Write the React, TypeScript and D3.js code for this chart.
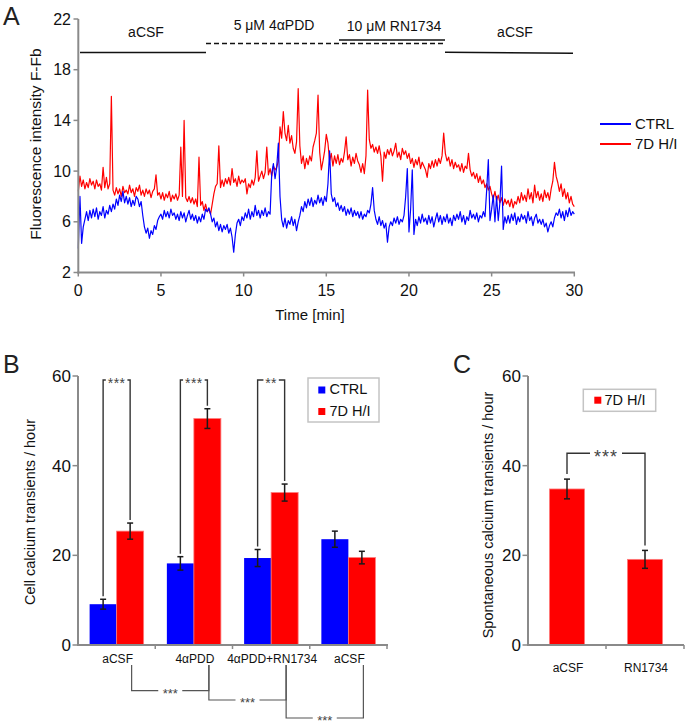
import React from 'react';
import * as d3 from 'd3';

const FONT = '"Liberation Sans", Arial, Helvetica, sans-serif';
const AXIS = '#8a8a8a';
const BLUE = '#0000ff';
const RED = '#ff0000';

// ---------- Panel A data (sampled every 0.1 min) ----------
const TRACE_STEP_MIN = 0.1;
const ctrlTrace = [
  3.9, 8.0, 4.3, 5.6, 6.2, 6.8, 6.1, 6.9, 6.3, 7.0,
  6.4, 7.1, 6.2, 6.8, 6.5, 7.2, 6.3, 6.9, 6.6, 7.3,
  6.8, 7.4, 7.0, 7.8, 7.3, 8.1, 7.6, 8.4, 7.5, 8.0,
  7.4, 7.9, 7.2, 7.7, 7.3, 8.0, 7.8, 7.2, 7.6, 6.5,
  5.6, 5.1, 5.5, 4.7, 5.3, 5.0, 5.7, 5.4, 6.1, 6.4,
  6.6, 6.2, 6.9, 6.4, 6.8, 6.3, 7.0, 6.5, 6.7, 6.2,
  6.6, 6.1, 6.8, 6.3, 6.7, 6.0, 6.5, 6.9, 6.2, 6.6,
  6.1, 6.5, 5.9, 6.4, 6.0, 6.6, 6.2, 7.0, 6.8, 7.1,
  6.6, 6.0, 6.3, 5.6, 6.0, 5.3, 5.8, 5.2, 5.7, 5.4,
  5.8, 5.1, 5.5, 4.8, 3.6, 5.0, 5.9, 6.2, 5.7, 6.4,
  6.1, 6.7, 6.3, 7.0, 6.2, 6.8, 6.4, 7.3, 6.5, 6.9,
  6.3, 6.9, 6.5, 7.1, 6.4, 6.8, 6.6, 9.8, 10.6, 9.4,
  10.3, 12.2, 8.0, 6.2, 5.6, 6.3, 5.5, 6.1, 5.8, 6.4,
  5.7, 6.2, 5.3, 6.0, 6.5, 7.2, 6.8, 7.6, 7.1, 7.8,
  7.3, 7.9, 7.2, 7.7, 7.4, 8.1, 7.5, 7.9, 7.3, 8.0,
  7.6, 9.0, 11.6, 8.2, 7.6, 7.9, 7.2, 7.5, 6.9, 7.3,
  6.8, 7.2, 6.5, 7.0, 6.6, 7.1, 6.4, 6.9, 6.5, 6.8,
  6.3, 6.8, 6.2, 6.6, 6.4, 6.9, 6.7, 7.4, 8.7, 6.9,
  6.2, 5.8, 6.4, 5.7, 6.1, 5.5, 5.9, 4.4, 5.6, 6.0,
  5.7, 6.3, 5.9, 6.4, 5.8, 6.2, 6.0, 6.5, 8.0, 10.2,
  5.2, 7.0, 10.1, 5.0, 6.2, 5.7, 6.4, 5.9, 6.6, 6.0,
  6.3, 5.8, 6.5, 5.9, 6.4, 5.6, 6.2, 6.7, 6.0, 6.5,
  5.8, 6.4, 6.0, 6.6, 5.9, 6.3, 5.7, 6.5, 6.1, 6.6,
  6.2, 6.8, 6.0, 6.5, 5.8, 6.4, 6.1, 6.9, 6.3, 6.6,
  6.2, 6.7, 6.0, 6.5, 6.3, 6.8, 6.4, 8.5, 10.9, 6.1,
  7.0, 8.1, 6.0, 8.0, 6.1, 7.5, 10.4, 5.4, 6.4, 5.9,
  6.5, 5.9, 6.6, 6.1, 6.7, 5.8, 6.4, 6.0, 6.6, 6.2,
  6.5, 5.9, 6.8, 6.1, 6.4, 5.7, 6.3, 6.6, 5.9, 6.2,
  5.8, 6.2, 5.6, 5.9, 5.2, 5.7, 6.0, 5.6, 6.3, 6.7,
  6.5, 7.0, 6.3, 6.8, 6.1, 6.9, 6.4, 7.1, 6.5, 6.8,
  6.6,
];
const hiTrace = [
  8.4, 9.6, 8.8, 9.3, 8.6, 9.1, 8.7, 9.4, 8.9, 9.2,
  8.6, 9.3, 8.8, 9.0, 8.5, 10.3, 8.7, 9.5, 8.6, 9.0,
  15.9, 8.5, 8.1, 8.7, 8.2, 8.6, 8.0, 8.8, 8.3, 8.5,
  8.2, 8.9, 8.3, 8.6, 8.0, 8.7, 8.4, 8.9, 8.1, 8.5,
  8.0, 8.6, 8.2, 8.5, 7.9, 8.4, 8.6, 9.7, 8.1, 8.3,
  7.8, 8.3, 7.7, 8.2, 7.9, 8.4, 7.6, 8.1, 7.8, 8.2,
  7.7, 8.1, 11.9, 8.0, 14.0, 7.9, 7.6, 8.0, 7.5, 7.9,
  7.4, 7.8, 7.2, 11.1, 7.3, 7.6, 6.9, 7.4, 6.8, 7.0,
  6.6, 7.4, 8.2, 8.8, 9.0, 12.0, 8.7, 9.3, 8.8, 9.4,
  9.0, 9.5, 8.9, 10.2, 9.1, 9.4, 8.8, 9.6, 9.0, 9.3,
  9.1, 9.4, 8.2, 9.0, 8.7, 9.3, 8.9, 9.5, 11.6, 9.2,
  9.6, 10.0, 9.4, 9.9, 11.9, 9.7, 10.2, 9.6, 10.4, 10.1,
  10.3, 10.8, 13.5, 12.6, 14.7, 13.0, 12.4, 13.6, 12.2, 12.8,
  11.8, 11.4, 12.3, 16.5, 12.0, 10.6, 11.2, 10.2, 11.0, 10.5,
  11.2, 10.8, 11.9, 12.4, 13.0, 16.0, 11.5, 10.1, 10.8, 11.6,
  12.9, 12.2, 10.8, 11.4, 10.4, 11.2, 10.6, 11.3, 10.5, 11.0,
  10.7, 11.5, 12.7, 10.9, 11.3, 10.4, 11.1, 10.6, 11.4, 10.8,
  10.5, 9.9, 10.6, 9.8, 11.2, 16.4, 12.5, 11.8, 12.1, 11.5,
  11.9, 11.4, 12.0, 11.2, 9.2, 11.5, 11.0, 11.7, 11.3, 11.8,
  11.2, 11.6, 12.2, 11.1, 11.5, 10.9, 11.8, 11.3, 11.6, 11.0,
  11.4, 10.6, 11.0, 10.3, 10.9, 10.5, 11.1, 10.2, 10.7, 10.4,
  10.1, 9.5, 10.6, 10.2, 10.8, 10.3, 10.9, 10.4, 11.0, 10.6,
  11.2, 13.0, 11.4, 10.8, 11.1, 10.4, 10.9, 10.2, 10.7, 10.3,
  10.5, 10.0, 10.6, 9.9, 10.4, 10.2, 11.4, 10.1, 9.6, 9.9,
  9.4, 9.8, 9.1, 9.6, 9.0, 9.3, 8.7, 9.0, 8.5, 8.8,
  8.2, 7.8, 8.4, 7.7, 8.1, 7.5, 7.9, 7.3, 7.8, 7.4,
  7.7, 7.2, 7.8, 7.1, 7.6, 7.4, 8.0, 7.5, 8.3, 7.7,
  8.1, 7.6, 8.6, 7.8, 8.3, 7.5, 8.9, 7.9, 8.4, 7.7,
  8.2, 7.6, 8.5, 7.9, 8.3, 7.7, 8.6, 9.2, 10.7, 9.6,
  9.1, 8.4, 9.0, 8.0, 8.6, 7.8, 8.3, 7.5, 8.0, 7.4,
  7.2,
];
const xTicksA = [0, 5, 10, 15, 20, 25, 30];
const yTicksA = [2, 6, 10, 14, 18, 22];
const seriesNames = ['CTRL', '7D H/I'];

// ---------- Panel B data ----------
const groupIdsB = ['g1', 'g2', 'g3', 'g4'];
const groupLabelsB = ['aCSF', '4αPDD', '4αPDD+RN1734', 'aCSF'];
const ctrlMeans = [9.1, 18.2, 19.4, 23.6];
const ctrlErrs = [1.1, 1.5, 1.9, 1.8];
const hiMeans = [25.4, 50.5, 34.0, 19.5];
const hiErrs = [1.8, 2.2, 1.9, 1.4];
const pairSigB = ['***', '***', '**'];
const stepSigB = ['***', '***', '***'];
const yTicksBC = [0, 20, 40, 60];

// ---------- Panel C data ----------
const catsC = ['aCSF', 'RN1734'];
const meansC = [34.8, 19.1];
const errsC = [2.2, 2.0];
const sigC = '***';

export default function App() {
  // Panel A scales
  const xA = d3.scaleLinear().domain([0, 30]).range([78.3, 574.3]);
  const yA = d3.scaleLinear().domain([2, 22]).range([272.5, 19]);
  const line = d3
    .line<number>()
    .x((_, i) => xA(i * TRACE_STEP_MIN))
    .y((d) => yA(d));

  // Panel B scales
  const xB = d3.scaleBand<string>().domain(groupIdsB).range([78, 387]).padding(0);
  const xSub = d3
    .scaleBand<string>()
    .domain(seriesNames)
    .range([0, xB.bandwidth()])
    .paddingInner(0)
    .paddingOuter(0.43);
  const yB = d3.scaleLinear().domain([0, 60]).range([645, 376]);

  // Panel C scales
  const xC = d3.scaleBand<string>().domain(catsC).range([528, 684]).paddingInner(0.55).paddingOuter(0.275);
  const yC = yB;

  const bw = xSub.bandwidth();
  const cx = (gi: number, s: number) => (xB(groupIdsB[gi]) as number) + (xSub(seriesNames[s]) as number) + bw / 2;

  const errBar = (x: number, m: number, e: number, ys: d3.ScaleLinear<number, number>, key: string) => (
    <g key={key} stroke="#1a1a1a" strokeWidth={1.5}>
      <line x1={x} x2={x} y1={ys(m + e)} y2={ys(m - e)} />
      <line x1={x - 3} x2={x + 3} y1={ys(m + e)} y2={ys(m + e)} />
      <line x1={x - 3} x2={x + 3} y1={ys(m - e)} y2={ys(m - e)} />
    </g>
  );

  const bracketTopY = 380;
  const bottomLevels = [690.7, 700, 718];

  return (
    <svg
      width={689}
      height={727}
      style={{ position: 'absolute', left: 0, top: 0, background: '#fff' }}
      fontFamily={FONT}
    >
      <rect width={689} height={727} fill="#fff" />

      {/* ================= Panel A ================= */}
      <text x={3} y={25} fontSize={25} fill="#222">A</text>

      {/* treatment annotations */}
      <g fill="#111" fontSize={14} textAnchor="middle">
        <text x={146} y={37}>aCSF</text>
        <text x={274} y={30}>5 μM 4αPDD</text>
        <text x={394} y={31}>10 μM RN1734</text>
        <text x={515} y={37}>aCSF</text>
      </g>
      <g stroke="#111" strokeWidth={1.6}>
        <line x1={80} x2={206} y1={52.5} y2={52.5} />
        <line x1={206} x2={445} y1={43.5} y2={43.5} strokeDasharray="5,3" />
        <line x1={339} x2={445} y1={40} y2={40} />
        <line x1={445} x2={573} y1={52.3} y2={53.3} />
      </g>

      {/* traces */}
      <path d={line(hiTrace) || ''} fill="none" stroke={RED} strokeWidth={1.2} strokeLinejoin="round" />
      <path d={line(ctrlTrace) || ''} fill="none" stroke={BLUE} strokeWidth={1.2} strokeLinejoin="round" />

      {/* axes A */}
      <g stroke={AXIS}>
        <line x1={78.3} x2={78.3} y1={yA(22)} y2={yA(2) + 1} strokeWidth={2} />
        <line x1={77.3} x2={575} y1={yA(2)} y2={yA(2)} strokeWidth={2} />
        {yTicksA.map((t) => (
          <line key={'ya' + t} x1={73.5} x2={78.3} y1={yA(t)} y2={yA(t)} strokeWidth={1.5} />
        ))}
        {xTicksA.map((t) => (
          <line key={'xa' + t} x1={xA(t)} x2={xA(t)} y1={yA(2)} y2={yA(2) + 4} strokeWidth={1.5} />
        ))}
      </g>
      <g fill="#111" fontSize={16}>
        {yTicksA.map((t) => (
          <text key={'yal' + t} x={71} y={yA(t) + 5.5} textAnchor="end">{t}</text>
        ))}
        {xTicksA.map((t) => (
          <text key={'xal' + t} x={xA(t)} y={296} textAnchor="middle">{t}</text>
        ))}
      </g>
      <text x={310} y={320} fontSize={15} textAnchor="middle" fill="#111">Time [min]</text>
      <text
        transform="translate(41,144) rotate(-90)"
        fontSize={15.5}
        textAnchor="middle"
        fill="#111"
      >
        Fluorescence intensity F-Fb
      </text>

      {/* legend A */}
      <line x1={600} x2={631} y1={124} y2={124} stroke={BLUE} strokeWidth={2} />
      <text x={635} y={129} fontSize={15} fill="#111">{seriesNames[0]}</text>
      <line x1={600} x2={631} y1={144} y2={144} stroke={RED} strokeWidth={2} />
      <text x={635} y={149} fontSize={15} fill="#111">{seriesNames[1]}</text>

      {/* ================= Panel B ================= */}
      <text x={3} y={373} fontSize={25} fill="#222">B</text>

      {groupIdsB.map((g, i) => (
        <g key={'bars' + g}>
          <rect
            x={cx(i, 0) - bw / 2}
            y={yB(ctrlMeans[i])}
            width={bw}
            height={yB(0) - yB(ctrlMeans[i])}
            fill={BLUE}
          />
          <rect
            x={cx(i, 1) - bw / 2}
            y={yB(hiMeans[i])}
            width={bw}
            height={yB(0) - yB(hiMeans[i])}
            fill={RED}
            stroke="#ff7a7a"
            strokeWidth={0.8}
          />
          {errBar(cx(i, 0), ctrlMeans[i], ctrlErrs[i], yB, 'ec' + g)}
          {errBar(cx(i, 1), hiMeans[i], hiErrs[i], yB, 'eh' + g)}
        </g>
      ))}

      {/* pair significance brackets */}
      {pairSigB.map((s, i) => {
        const xl = cx(i, 0);
        const xr = cx(i, 1);
        const yl = yB(ctrlMeans[i] + ctrlErrs[i]) - 3;
        const yr = yB(hiMeans[i] + hiErrs[i]) - 3;
        const mid = (xl + xr) / 2;
        const tw = s.length * 6.2 + 3;
        return (
          <g key={'ps' + i}>
            <path
              d={`M${xl},${yl}V${bracketTopY}H${mid - tw / 2}M${mid + tw / 2},${bracketTopY}H${xr}V${yr}`}
              fill="none"
              stroke="#333"
              strokeWidth={1.4}
            />
            <text x={mid} y={bracketTopY + 8} fontSize={14} textAnchor="middle" fill="#444" letterSpacing={0.5}>
              {s}
            </text>
          </g>
        );
      })}

      {/* axes B */}
      <g stroke={AXIS}>
        <line x1={78} x2={78} y1={yB(60)} y2={yB(0) + 1} strokeWidth={2} />
        <line x1={77} x2={388} y1={yB(0)} y2={yB(0)} strokeWidth={2} />
        {yTicksBC.map((t) => (
          <line key={'yb' + t} x1={72.5} x2={78} y1={yB(t)} y2={yB(t)} strokeWidth={1.5} />
        ))}
        {groupIdsB.map((g) => (
          <line
            key={'xb' + g}
            x1={(xB(g) as number) + xB.bandwidth()}
            x2={(xB(g) as number) + xB.bandwidth()}
            y1={yB(0)}
            y2={yB(0) + 4}
            strokeWidth={1.5}
          />
        ))}
      </g>
      <g fill="#111" fontSize={17}>
        {yTicksBC.map((t) => (
          <text key={'ybl' + t} x={71} y={yB(t) + 6} textAnchor="end">{t}</text>
        ))}
      </g>
      <g fill="#111" fontSize={12} textAnchor="middle">
        {groupIdsB.map((g, i) => (
          <text key={'xbl' + g} x={(xB(g) as number) + xB.bandwidth() / 2 + 1} y={663}>
            {groupLabelsB[i]}
          </text>
        ))}
      </g>
      <text transform="translate(35,512) rotate(-90)" fontSize={14.5} textAnchor="middle" fill="#111">
        Cell calcium transients / hour
      </text>

      {/* step significance brackets below */}
      {stepSigB.map((s, i) => {
        const xl = cx(i, 1) + 1.5;
        const xr = cx(i + 1, 1) + 1.5;
        const yy = bottomLevels[i];
        const mid = (xl + xr) / 2;
        const tw = 24;
        return (
          <g key={'ss' + i}>
            <path
              d={`M${xl},665V${yy}H${mid - tw / 2}M${mid + tw / 2},${yy}H${xr}V665`}
              fill="none"
              stroke="#555"
              strokeWidth={1.2}
            />
            <text x={mid} y={yy + 7} fontSize={13} textAnchor="middle" fill="#444">
              {s}
            </text>
          </g>
        );
      })}

      {/* legend B */}
      <rect x={308} y={378} width={71} height={44} fill="#fff" stroke="#c4c4c4" strokeWidth={1.5} />
      <rect x={318.3} y={386.5} width={7} height={7} fill={BLUE} />
      <text x={329.5} y={394} fontSize={14.5} fill="#111">{seriesNames[0]}</text>
      <rect x={318.3} y={408} width={7} height={7} fill={RED} />
      <text x={329.5} y={415.5} fontSize={14.5} fill="#111">{seriesNames[1]}</text>

      {/* ================= Panel C ================= */}
      <text x={453} y={373} fontSize={25} fill="#222">C</text>

      {catsC.map((c, i) => {
        const x0 = xC(c) as number;
        return (
          <g key={'cb' + c}>
            <rect
              x={x0}
              y={yC(meansC[i])}
              width={xC.bandwidth()}
              height={yC(0) - yC(meansC[i])}
              fill={RED}
              stroke="#ff7a7a"
              strokeWidth={0.8}
            />
            {errBar(x0 + xC.bandwidth() / 2, meansC[i], errsC[i], yC, 'ce' + c)}
          </g>
        );
      })}

      {(() => {
        const xl = (xC(catsC[0]) as number) + xC.bandwidth() / 2;
        const xr = (xC(catsC[1]) as number) + xC.bandwidth() / 2;
        const yl = yC(meansC[0] + errsC[0]) - 5;
        const yr = yC(meansC[1] + errsC[1]) - 5;
        const yt = 453.3;
        const mid = (xl + xr) / 2;
        const tw = 32;
        return (
          <g>
            <path
              d={`M${xl},${yl}V${yt}H${mid - tw / 2}M${mid + tw / 2},${yt}H${xr}V${yr}`}
              fill="none"
              stroke="#333"
              strokeWidth={1.4}
            />
            <text x={mid} y={yt + 10} fontSize={18} textAnchor="middle" fill="#444" letterSpacing={1}>
              {sigC}
            </text>
          </g>
        );
      })()}

      {/* axes C */}
      <g stroke={AXIS}>
        <line x1={528} x2={528} y1={yC(60)} y2={yC(0) + 1} strokeWidth={2} />
        <line x1={527} x2={684} y1={yC(0)} y2={yC(0)} strokeWidth={2} />
        {yTicksBC.map((t) => (
          <line key={'yc' + t} x1={522.5} x2={528} y1={yC(t)} y2={yC(t)} strokeWidth={1.5} />
        ))}
        {catsC.map((c) => {
          const xe = (xC(c) as number) + xC.bandwidth() / 2 + xC.step() / 2;
          return <line key={'xc' + c} x1={xe} x2={xe} y1={yC(0)} y2={yC(0) + 4} strokeWidth={1.5} />;
        })}
      </g>
      <g fill="#111" fontSize={17}>
        {yTicksBC.map((t) => (
          <text key={'ycl' + t} x={521} y={yC(t) + 6} textAnchor="end">{t}</text>
        ))}
      </g>
      <g fill="#111" fontSize={12} textAnchor="middle">
        {catsC.map((c) => (
          <text key={'xcl' + c} x={(xC(c) as number) + xC.bandwidth() / 2 + 1} y={672}>
            {c}
          </text>
        ))}
      </g>
      <text transform="translate(493,515) rotate(-90)" fontSize={14.5} textAnchor="middle" fill="#111">
        Spontaneous calcium transients / hour
      </text>

      {/* legend C */}
      <rect x={583.3} y={389.3} width={72.4} height={22} fill="#fff" stroke="#c4c4c4" strokeWidth={1.5} />
      <rect x={594.3} y={396.7} width={7} height={7} fill={RED} />
      <text x={604.5} y={404.5} fontSize={14.5} fill="#111">{seriesNames[1]}</text>
    </svg>
  );
}
